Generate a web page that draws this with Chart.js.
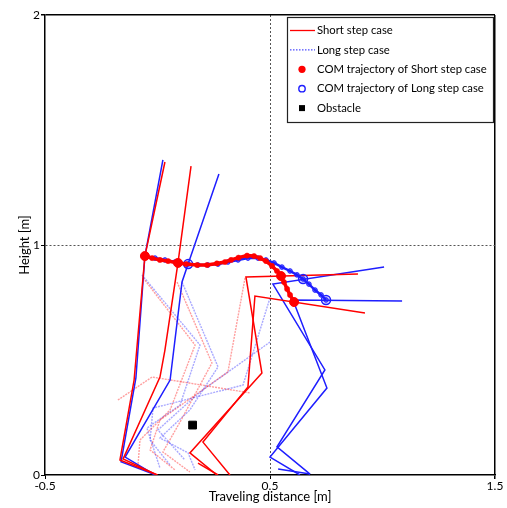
<!DOCTYPE html>
<html>
<head>
<meta charset="utf-8">
<script src="https://cdn.jsdelivr.net/npm/chart.js@4.4.0/dist/chart.umd.min.js"></script>
<style>
  html, body { margin: 0; padding: 0; background: #fff; }
</style>
</head>
<body>
<canvas id="chart" width="507" height="508"></canvas>
<script>
// Axis ticks
const xTicks = [-0.5, 0.5, 1.5];
const yTicks = [0, 1, 2];

// Short step case (red) stick figures, [x, y] in metres
const shortFig1 = [[0.033, 1.361], [-0.056, 0.952], [-0.104, 0.413], [-0.167, 0.065], [0.0, 0.0]];
const shortFig2 = [[0.149, 1.343], [0.091, 0.922], [0.033, 0.543], [0.011, 0.426], [-0.153, 0.070], [-0.002, 0.0]];
const shortFig3 = [[0.891, 0.874], [0.393, 0.861], [0.464, 0.443], [0.144, 0.096], [0.264, 0.0]];
const shortFig4 = [[0.922, 0.704], [0.433, 0.778], [0.402, 0.383], [0.202, 0.143], [0.322, 0.0]];
const shortFoot = [[0.180, 0.052], [0.269, 0.0]];

// Long step case (blue) stick figures
const longFig1 = [[0.024, 1.370], [-0.056, 0.952], [-0.096, 0.422], [-0.162, 0.057], [-0.007, 0.0]];
const longFig2 = [[0.273, 1.309], [0.136, 0.917], [0.109, 0.839], [0.056, 0.413], [-0.144, 0.078], [-0.011, 0.0]];
const longFig3 = [[1.007, 0.904], [0.513, 0.830], [0.744, 0.457], [0.531, 0.122], [0.678, 0.004]];
const longFig4 = [[1.087, 0.757], [0.602, 0.761], [0.753, 0.378], [0.500, 0.078], [0.633, 0.0]];
const longFoot = [[0.536, 0.026], [0.678, 0.004]];

// Intermediate frames (faint)
const shortFaint1 = [[-0.064, 0.857], [0.167, 0.565], [0.056, 0.283], [-0.078, 0.152], [-0.087, 0.039]];
const shortFaint2 = [[0.087, 0.839], [0.242, 0.487], [0.100, 0.230], [0.024, 0.100], [0.144, 0.013]];
const shortFaint3 = [[0.389, 0.857], [0.313, 0.448], [0.011, 0.239], [-0.033, 0.109], [0.078, 0.022]];
const shortFaint4 = [[-0.176, 0.326], [-0.024, 0.426], [0.411, 0.357]];
const longFaint1 = [[-0.069, 0.870], [0.189, 0.565], [0.100, 0.304], [-0.047, 0.204], [0.011, 0.030]];
const longFaint2 = [[0.109, 0.839], [0.269, 0.470], [0.144, 0.283], [0.011, 0.161], [0.136, 0.096], [0.167, 0.022]];
const longFaint3 = [[0.500, 0.770], [0.380, 0.391], [-0.020, 0.291], [-0.033, 0.152], [0.056, 0.043]];
const longFaint4 = [[0.500, 0.578], [0.189, 0.361], [0.002, 0.196], [0.122, 0.065]];

// COM trajectories
const comShortX = [-0.056, -0.024, 0.011, 0.047, 0.091, 0.127, 0.176, 0.220, 0.264, 0.300, 0.327, 0.360, 0.398, 0.429, 0.456, 0.482, 0.509, 0.531, 0.549, 0.562, 0.576, 0.589, 0.607];
const comShortY = [0.952, 0.943, 0.935, 0.930, 0.922, 0.917, 0.913, 0.913, 0.920, 0.926, 0.935, 0.945, 0.954, 0.952, 0.943, 0.930, 0.909, 0.887, 0.865, 0.839, 0.809, 0.783, 0.752];
const comShortKeyX = [-0.056, 0.091, 0.549, 0.607];
const comShortKeyY = [0.952, 0.922, 0.865, 0.752];

const comLongX = [-0.056, -0.011, 0.033, 0.078, 0.136, 0.180, 0.224, 0.269, 0.313, 0.358, 0.402, 0.447, 0.482, 0.518, 0.553, 0.589, 0.620, 0.647, 0.673, 0.700, 0.727, 0.749];
const comLongY = [0.952, 0.943, 0.935, 0.926, 0.917, 0.913, 0.913, 0.917, 0.926, 0.935, 0.943, 0.943, 0.935, 0.922, 0.904, 0.887, 0.870, 0.852, 0.830, 0.804, 0.783, 0.761];
const comLongKeyX = [0.136, 0.647, 0.749];
const comLongKeyY = [0.917, 0.852, 0.761];

// Obstacle
const obstacleX = [0.156];
const obstacleY = [0.217];

const RED = 'rgb(255,0,0)';
const BLUE = 'rgb(30,30,255)';
const FONT = 'Lato';

const pairs = arr => arr.map(([x, y]) => ({ x, y }));
const zipXY = (xs, ys) => xs.map((x, i) => ({ x, y: ys[i] }));

function stick(label, data, color, order) {
    return { label, data: pairs(data), showLine: true, borderColor: color, borderWidth: 1.5,
             pointRadius: 0, fill: false, order };
}
function faint(label, data, color) {
    return { label, data: pairs(data), showLine: true, borderColor: color, borderWidth: 1.4,
             borderDash: [2, 1], pointRadius: 0, fill: false, order: 4 };
}

const datasets = [
    // COM trajectories on top
    { label: 'COM trajectory of Short step case', data: zipXY(comShortX, comShortY), showLine: true,
      borderColor: RED, borderWidth: 3.5, pointRadius: 2.6, pointBackgroundColor: RED,
      pointBorderColor: RED, pointBorderWidth: 0.5, order: 0 },
    { label: 'COM short key', data: zipXY(comShortKeyX, comShortKeyY), showLine: false,
      pointRadius: 4.5, pointBackgroundColor: RED, pointBorderColor: RED, order: 0 },
    { label: 'COM trajectory of Long step case', data: zipXY(comLongX, comLongY), showLine: true,
      borderColor: BLUE, borderWidth: 2.5, pointRadius: 2.3, pointBackgroundColor: 'rgba(30,30,255,0.6)',
      pointBorderColor: BLUE, pointBorderWidth: 1, order: 1 },
    { label: 'COM long key', data: zipXY(comLongKeyX, comLongKeyY), showLine: false,
      pointRadius: 4.5, pointBackgroundColor: 'rgba(30,30,255,0.15)', pointBorderColor: BLUE,
      pointBorderWidth: 1.5, order: 1 },
    { label: 'Obstacle', data: zipXY(obstacleX, obstacleY), showLine: false, pointStyle: 'rect',
      pointRadius: 5.5, pointBackgroundColor: '#000', pointBorderColor: '#000', order: 0 },

    stick('Short step case', shortFig1, RED, 2),
    stick('Short step case', shortFig2, RED, 2),
    stick('Short step case', shortFig3, RED, 2),
    stick('Short step case', shortFig4, RED, 2),
    stick('Short step case', shortFoot, RED, 2),
    stick('Long step case', longFig1, BLUE, 3),
    stick('Long step case', longFig2, BLUE, 3),
    stick('Long step case', longFig3, BLUE, 3),
    stick('Long step case', longFig4, BLUE, 3),
    stick('Long step case', longFoot, BLUE, 3),

    faint('Short step case', shortFaint1, 'rgba(255,0,0,0.38)'),
    faint('Short step case', shortFaint2, 'rgba(255,0,0,0.38)'),
    faint('Short step case', shortFaint3, 'rgba(255,0,0,0.38)'),
    faint('Short step case', shortFaint4, 'rgba(255,0,0,0.38)'),
    faint('Long step case', longFaint1, 'rgba(30,30,255,0.38)'),
    faint('Long step case', longFaint2, 'rgba(30,30,255,0.38)'),
    faint('Long step case', longFaint3, 'rgba(30,30,255,0.38)'),
    faint('Long step case', longFaint4, 'rgba(30,30,255,0.38)')
];

// Legend drawn as a boxed panel inside the plot area
const legendEntries = [
    { text: 'Short step case', kind: 'line', color: RED, dash: [] },
    { text: 'Long step case', kind: 'line', color: BLUE, dash: [1.5, 1.5] },
    { text: 'COM trajectory of Short step case', kind: 'dot', color: RED },
    { text: 'COM trajectory of Long step case', kind: 'ring', color: BLUE },
    { text: 'Obstacle', kind: 'square', color: '#000' }
];

const legendBox = {
    id: 'legendBox',
    afterDraw(chart) {
        const { ctx, chartArea: a } = chart;
        const w = 206, h = 105;
        const x0 = a.right - 208, y0 = a.top + 2;
        ctx.save();
        ctx.fillStyle = '#fff';
        ctx.fillRect(x0, y0, w, h);
        ctx.strokeStyle = '#222';
        ctx.lineWidth = 1.2;
        ctx.strokeRect(x0 + 0.5, y0 + 0.5, w, h);
        ctx.font = '11.3px ' + FONT;
        ctx.textBaseline = 'middle';
        legendEntries.forEach((e, i) => {
            const cy = y0 + 13.5 + i * 19.4;
            const cx = x0 + 15;
            if (e.kind === 'line') {
                ctx.strokeStyle = e.color;
                ctx.lineWidth = e.dash.length ? 1 : 1.3;
                ctx.setLineDash(e.dash);
                ctx.beginPath();
                ctx.moveTo(x0 + 3, cy);
                ctx.lineTo(x0 + 28, cy);
                ctx.stroke();
                ctx.setLineDash([]);
            } else if (e.kind === 'dot') {
                ctx.fillStyle = e.color;
                ctx.beginPath();
                ctx.arc(cx, cy, 3.6, 0, Math.PI * 2);
                ctx.fill();
            } else if (e.kind === 'ring') {
                ctx.strokeStyle = e.color;
                ctx.lineWidth = 1.4;
                ctx.beginPath();
                ctx.arc(cx, cy, 3.2, 0, Math.PI * 2);
                ctx.stroke();
            } else {
                ctx.fillStyle = e.color;
                ctx.fillRect(cx - 3, cy - 3, 6, 6);
            }
            ctx.fillStyle = '#000';
            ctx.fillText(e.text, x0 + 30, cy);
        });
        ctx.restore();
    }
};

const gridColor = (mid, edge) => c => {
    const v = c.tick ? c.tick.value : null;
    if (v === mid) return '#555';
    if (v === edge) return '#000';
    return 'rgba(0,0,0,0)';
};

new Chart(document.getElementById('chart'), {
    type: 'scatter',
    data: { datasets },
    options: {
        responsive: false,
        animation: false,
        layout: { padding: { top: 15, right: 12, bottom: 0, left: 0 } },
        plugins: {
            legend: { display: false },
            tooltip: { enabled: false }
        },
        scales: {
            x: {
                type: 'linear',
                min: -0.5,
                max: 1.5,
                afterBuildTicks: s => { s.ticks = xTicks.map(v => ({ value: v })); },
                afterFit: s => { s.height = 33; },
                ticks: { color: '#000', font: { family: FONT, size: 12 }, padding: 0, maxRotation: 0 },
                grid: {
                    color: gridColor(0.5, 1.5),
                    lineWidth: c => (c.tick && c.tick.value === 1.5) ? 1.5 : 1,
                    tickColor: '#000',
                    tickLength: 4
                },
                border: {
                    display: true, color: '#000', width: 1.5,
                    dash: c => (c.tick && c.tick.value === 0.5) ? [2, 2] : []
                },
                title: {
                    display: true, text: 'Traveling distance [m]', color: '#000',
                    font: { family: FONT, size: 13 }, padding: { top: 0, bottom: 3 }
                }
            },
            y: {
                type: 'linear',
                min: 0,
                max: 2,
                afterBuildTicks: s => { s.ticks = yTicks.map(v => ({ value: v })); },
                afterFit: s => { s.width = 45; },
                ticks: { color: '#000', font: { family: FONT, size: 12 }, padding: 1 },
                grid: {
                    color: gridColor(1, 2),
                    lineWidth: c => (c.tick && c.tick.value === 2) ? 1.5 : 1,
                    tickColor: '#000',
                    tickLength: 4
                },
                border: {
                    display: true, color: '#000', width: 1.5,
                    dash: c => (c.tick && c.tick.value === 1) ? [2, 2] : []
                },
                title: {
                    display: true, text: 'Height [m]', color: '#000',
                    font: { family: FONT, size: 13 }, padding: { top: 17, bottom: 0 }
                }
            }
        }
    },
    plugins: [legendBox]
});
</script>
</body>
</html>
